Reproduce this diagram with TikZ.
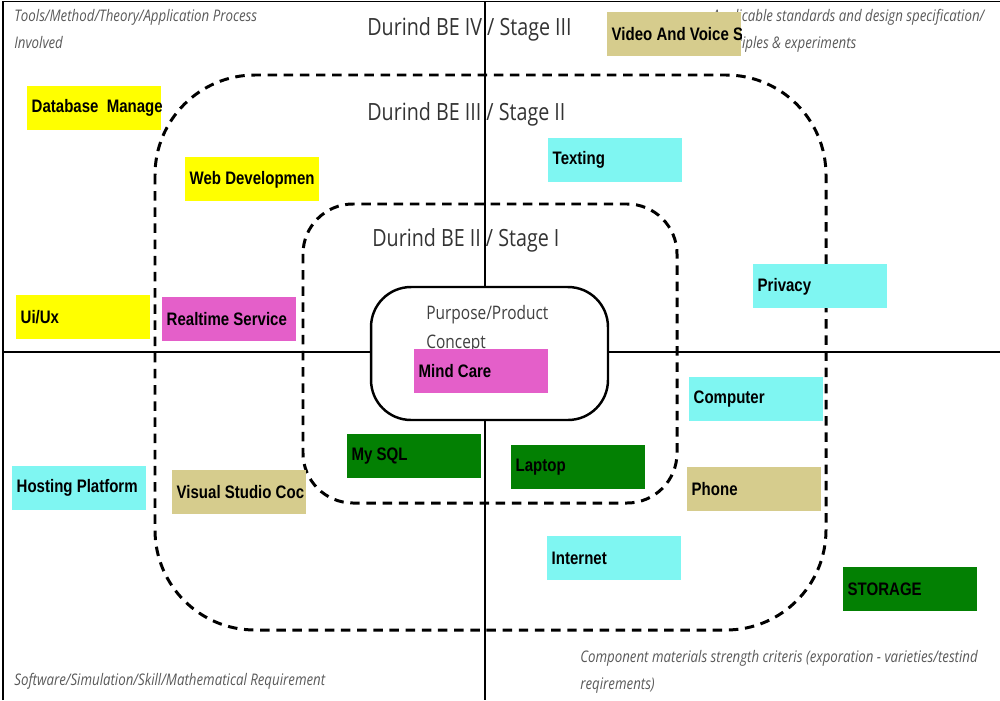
\documentclass[tikz,border=0pt]{standalone}
\usepackage{fontspec}
\newfontfamily\chipfont[FakeStretch=0.83]{Liberation Sans}
\newfontfamily\stagefont[FakeStretch=0.83]{Open Sans}

\definecolor{chipyellow}{HTML}{FFFF00}
\definecolor{chippink}{HTML}{E45FC9}
\definecolor{chipcyan}{HTML}{7FF6F2}
\definecolor{chipkhaki}{HTML}{D6CC8D}
\definecolor{chipgreen}{HTML}{038003}

\tikzset{
	chip/.style={anchor=north west, minimum width=2.68cm, minimum height=0.88cm, inner sep=0pt},
	chiplabel/.style={anchor=west, inner xsep=0.08cm, inner ysep=0pt, minimum width=0pt, minimum height=0pt, fill=none, draw=none, font=\chipfont\bfseries\fontsize{10.3}{12}\selectfont},
	stageline/.style={dash pattern=on 5.4pt off 3.8pt, line width=1.7pt},
	note/.style={anchor=base west, inner sep=0pt, align=left, text=black!65, font=\stagefont\itshape\fontsize{9.1}{15.2}\selectfont},
	stagelabel/.style={anchor=west, inner sep=0pt, text=black!80, font=\stagefont\fontsize{13.5}{16}\selectfont}
}

\begin{document}
\begin{tikzpicture}[x=0.02cm, y=-0.02cm]
\useasboundingbox (0,0) rectangle (1000,700);

\draw[line width=1.1pt] (3,700) -- (3,1.5) -- (1000,1.5);
\draw[line width=1.1pt] (3,352) -- (1000,352);
\draw[line width=1.1pt] (485,1.5) -- (485,700);

\draw[stageline, rounded corners=2cm] (155,75) rectangle (826,630);
\draw[stageline, rounded corners=1cm] (303,204) rectangle (677,503);

\node[draw, fill=white, line width=1.4pt, rounded corners=0.8cm, minimum width=4.74cm, minimum height=2.66cm] (core) at (489.5,353.5) {};

% base of a two-line note is its last line
\node[note] (tools) at (14,48) {Tools/Method/Theory/Application Process\\Involved};
\node[note] (standards) at (712,48) {Applicable standards and design specification/\\Principles \& experiments};
\node[note] (software) at (14,685) {Software/Simulation/Skill/Mathematical Requirement};
\node[note] (component) at (580,689) {Component materials strength criteris (exporation - varieties/testind\\reqirements)};

\node[anchor=base west, inner sep=0pt, align=left, text=black!75, font=\stagefont\fontsize{10.6}{16.4}\selectfont] (purpose) at (426,348) {Purpose/Product\\Concept};

\node[stagelabel] (be4) at (367,29) {Durind BE IV / Stage III};
\node[stagelabel] (be3) at (367,114) {Durind BE III / Stage II};
\node[stagelabel] (be2) at (372,240) {Durind BE II / Stage I};

\foreach \name/\x/\y/\col/\text in {
	dbm/27/86/chipyellow/Database\ \ Manage,
	web/185/157/chipyellow/Web Developmen,
	uiux/16/295/chipyellow/{Ui/Ux},
	realtime/162/297/chippink/Realtime Service,
	hosting/12/466/chipcyan/Hosting Platform,
	vscode/172/470/chipkhaki/Visual Studio Coc,
	mysql/347/434/chipgreen/My SQL,
	mindcare/414/349/chippink/Mind Care,
	laptop/511/445/chipgreen/Laptop,
	texting/548/138/chipcyan/Texting,
	voice/607/12/chipkhaki/Video And Voice S,
	privacy/753/264/chipcyan/Privacy,
	computer/689/377/chipcyan/Computer,
	phone/687/467/chipkhaki/Phone,
	internet/547/536/chipcyan/Internet,
	storage/843/567/chipgreen/STORAGE}
\node[chip, fill=\col, path picture={\node[chiplabel] (\name-text) at (path picture bounding box.west) {\text};}] (\name) at (\x,\y) {};

\end{tikzpicture}
\end{document}
